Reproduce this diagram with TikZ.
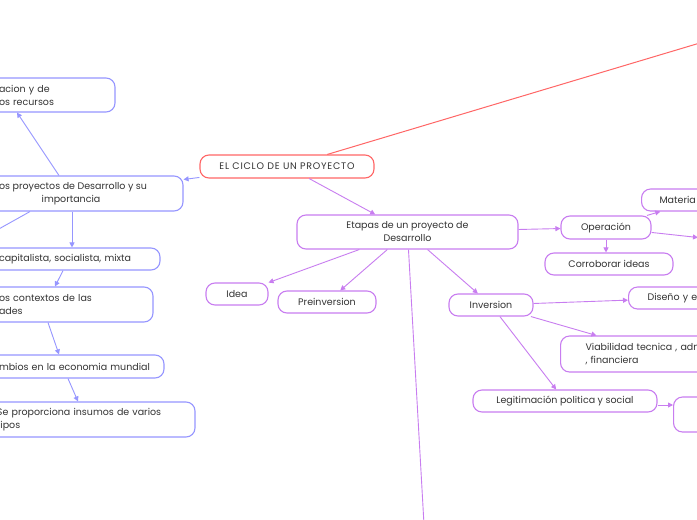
\documentclass[tikz,border=0pt]{standalone}
\usepackage{fontspec}
\setmainfont{Poppins}
\usetikzlibrary{arrows.meta,positioning}
\definecolor{rojo}{RGB}{255,102,102}
\definecolor{morado}{RGB}{200,125,240}
\definecolor{azul}{RGB}{150,150,255}
\definecolor{texto}{RGB}{51,51,51}

\begin{document}
\begin{tikzpicture}[x=1pt, y=-1pt,
  caja/.style={draw, rounded corners=9pt, fill=white, text=texto, font=\fontsize{9.5}{13}\selectfont, line width=1.1pt, inner xsep=4pt, inner ysep=2pt},
  raiz/.style={caja, draw=rojo, font=\fontsize{9.5}{13}\selectfont\addfontfeatures{LetterSpace=8}},
  etapa/.style={caja, draw=morado},
  lado/.style={caja, draw=azul},
  flecha/.style={line width=0.9pt, -{Triangle[length=5pt,width=5pt]}}]
  \fill[white] (0,0) rectangle (697,520);
  \useasboundingbox (0,0) rectangle (697,520);
  \clip (0,0) rectangle (697,520);

  % centro
  \node[raiz, minimum width=174pt, minimum height=23pt] (ciclo) at (287,166.5) {EL CICLO DE UN PROYECTO};
  \node[etapa, minimum width=221pt, minimum height=34pt, align=center] (etapas) at (407.5,232) {Etapas de un proyecto de\\Desarrollo};
  \node[etapa, minimum width=62pt, minimum height=22pt] (idea) at (237,294) {Idea};
  \node[etapa, minimum width=98pt, minimum height=22pt] (preinv) at (327,302) {Preinversion};
  \node[etapa, minimum width=84pt, minimum height=22pt] (inversion) at (491,305) {Inversion};
  \node[etapa, minimum width=90pt, minimum height=23pt] (operacion) at (606,227.5) {Operación};
  \node[etapa, minimum width=128pt, minimum height=22pt] (corroborar) at (609,264) {Corroborar ideas};
  \node[etapa, minimum width=184pt, minimum height=22pt] (legitimacion) at (565,401) {Legitimación politica y social};

  % derecha, cortados por el borde
  \node[etapa, anchor=west, minimum height=22pt, inner xsep=18pt, text width=80pt, align=left] (materia) at (641,200) {Materia};
  \node[etapa, anchor=west, minimum height=22pt, inner xsep=19pt, text width=80pt, align=left] (diseno) at (628,298) {Diseño y e};
  \node[etapa, anchor=west, minimum height=36pt, inner xsep=25pt, text width=150pt, align=left] (viabilidad) at (560,354) {Viabilidad tecnica , adm\\, financiera};
  \node[etapa, anchor=west, minimum height=35pt, minimum width=80pt] (siguiente) at (673,414.5) {};

  % izquierda, cortados por el borde
  \node[lado, text width=82pt, minimum width=150pt, minimum height=34pt, align=left] (recursos) at (40,95) {acion y de\\os recursos};
  \node[lado, minimum width=224pt, minimum height=35pt, align=center] (proyectos) at (71,193.5) {Los proyectos de Desarrollo y su\\importancia};
  \node[lado, text width=152pt, minimum width=170pt, minimum height=22pt, align=left] (sistemas) at (75,259) {capitalista, socialista, mixta};
  \node[lado, text width=112pt, minimum width=196pt, minimum height=35pt, align=left] (contextos) at (55,304.5) {os contextos de las\\ades};
  \node[lado, text width=154pt, minimum width=176pt, minimum height=23pt, align=left] (cambios) at (76,366.5) {mbios en la economia mundial};
  \node[lado, text width=186pt, minimum width=210pt, minimum height=35pt, align=left] (insumos) at (90,419.5) {Se proporciona insumos de varios\\tipos};

  % ramas que salen de la imagen
  \coordinate (fueraarriba) at (760,25);
  \coordinate (fueraizq) at (-40,250.7);
  \coordinate (fueraabajo) at (426,560);
  \coordinate (fueraderecha) at (698,237.5);

  \draw[rojo, line width=1pt] (ciclo) -- (fueraarriba);
  \draw[azul, flecha] (ciclo) -- (proyectos);
  \draw[azul, flecha] (proyectos) -- ([xshift=-23pt]recursos.south);
  \draw[azul, line width=0.9pt] ([xshift=-41pt]proyectos.south) -- (fueraizq);
  \draw[azul, flecha] ([xshift=1pt]proyectos.south) -- ([xshift=-3pt]sistemas.north);
  \draw[azul, flecha] ([xshift=-12pt]sistemas.south) -- (contextos.north);
  \draw[azul, flecha] ([xshift=-7pt]contextos.south) -- ([xshift=-17pt]cambios.north);
  \draw[azul, flecha] ([xshift=-8pt]cambios.south) -- ([xshift=-12pt]insumos.north);

  \draw[morado, flecha] (ciclo) -- (etapas);
  \draw[morado, flecha] (etapas) -- (idea);
  \draw[morado, flecha] (etapas) -- (preinv);
  \draw[morado, line width=0.9pt] (etapas) -- (fueraabajo);
  \draw[morado, flecha] (etapas) -- (inversion);
  \draw[morado, flecha] (etapas) -- (operacion);
  \draw[morado, flecha] (operacion) -- (operacion |- corroborar.north);
  \draw[morado, flecha] (operacion) -- (materia);
  \draw[morado, flecha] (operacion) -- (fueraderecha);
  \draw[morado, flecha] (inversion) -- (diseno);
  \draw[morado, flecha] (inversion) -- (viabilidad);
  \draw[morado, flecha] (inversion) -- (legitimacion);
  \draw[morado, flecha] ([yshift=-4pt]legitimacion.east) -- ([yshift=9.5pt]siguiente.west);
\end{tikzpicture}
\end{document}
